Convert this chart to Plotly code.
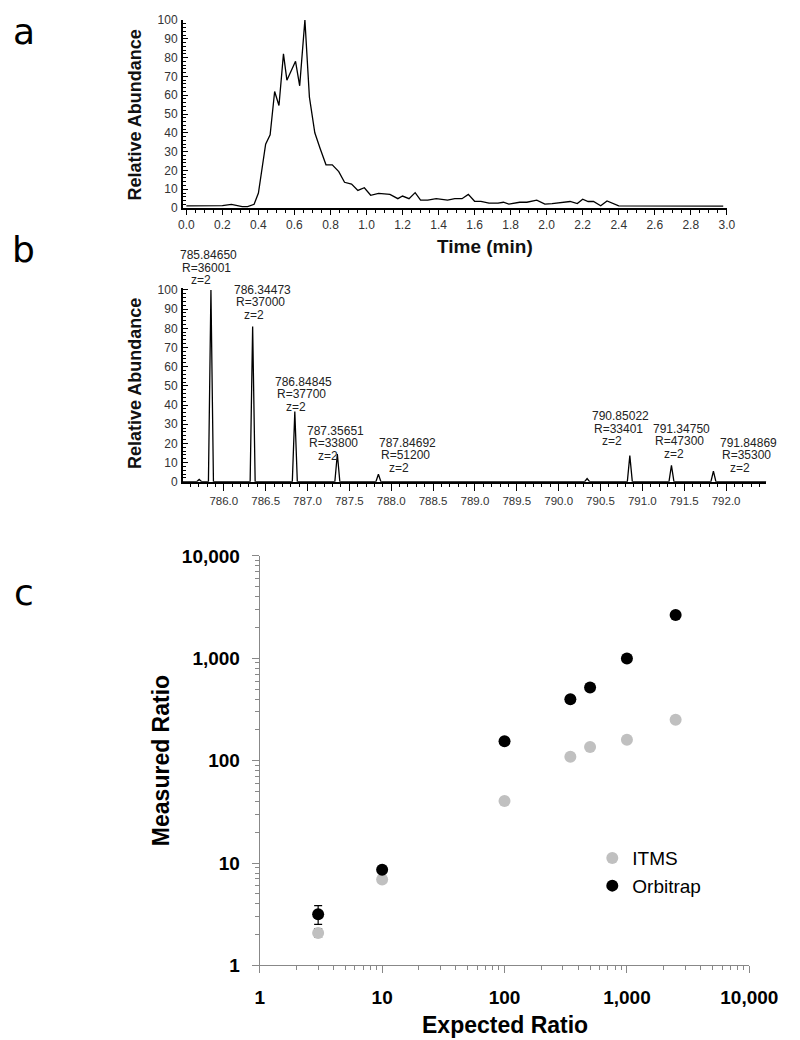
import plotly.graph_objects as go

W, H = 800, 1040

# ---------------- data ----------------
# panel a: chromatogram
time_min = [0.00, 0.05, 0.10, 0.15, 0.20, 0.25, 0.31, 0.34, 0.376, 0.40,
            0.44, 0.465, 0.49, 0.514, 0.539, 0.558, 0.606, 0.629, 0.658, 0.683,
            0.713, 0.743, 0.775, 0.81, 0.846, 0.878, 0.917, 0.952, 0.988, 1.023,
            1.067, 1.13, 1.174, 1.20, 1.236, 1.27, 1.30, 1.34, 1.387, 1.45,
            1.49, 1.53, 1.565, 1.60, 1.635, 1.68, 1.73, 1.76, 1.79, 1.85,
            1.89, 1.945, 1.99, 2.03, 2.07, 2.13, 2.17, 2.20, 2.23, 2.26,
            2.30, 2.335, 2.40, 2.71, 2.80, 2.98]
abundance = [1.2, 1.2, 1.5, 1.3, 1.3, 2.0, 0.8, 0.8, 2.0, 8.0,
             34, 39, 62, 54.5, 82, 68, 78, 65, 100, 59,
             40, 31.5, 23, 23, 19.4, 13.7, 12.8, 9.4, 10.8, 6.8,
             7.8, 7.3, 5.0, 6.4, 5.0, 8.2, 4.2, 4.2, 5.0, 4.2,
             5.0, 5.0, 7.3, 3.6, 3.6, 2.6, 2.6, 3.1, 2.1, 3.1,
             3.1, 4.2, 2.1, 2.4, 2.9, 3.5, 2.4, 4.7, 3.5, 3.5,
             1.2, 3.8, 1.2, 1.2, 0.9, 1.0]

# panel b: mass spectrum peaks
peak_mz = [785.706, 785.84650, 786.34473, 786.84845, 787.35651, 787.84692,
           790.34, 790.85022, 791.34750, 791.84869]
peak_int = [1.2, 100, 81, 36.6, 14.5, 3.9, 1.7, 13.6, 8.5, 5.5]
label_mz = ["785.84650", "786.34473", "786.84845", "787.35651", "787.84692",
            "790.85022", "791.34750", "791.84869"]
label_R = ["R=36001", "R=37000", "R=37700", "R=33800", "R=51200",
           "R=33401", "R=47300", "R=35300"]
label_z = ["z=2"] * 8
label_peak_index = [1, 2, 3, 4, 5, 7, 8, 9]

# panel c: ratios
expected_itms = [3, 10, 100, 345, 500, 1000, 2500]
measured_itms = [2.08, 6.9, 40.5, 109, 136, 160, 251]
itms_err_plus = [0.21, 0, 0, 0, 0, 0, 0]
itms_err_minus = [0.20, 0, 0, 0, 0, 0, 0]
expected_orbi = [3, 10, 100, 345, 500, 1000, 2500]
measured_orbi = [3.16, 8.6, 155, 398, 519, 995, 2650]
orbi_err_plus = [0.68, 0, 0, 0, 0, 0, 0]
orbi_err_minus = [0.64, 0, 0, 0, 0, 0, 0]

log_ticks = [1, 10, 100, 1000, 10000]
log_ticktext = ["1", "10", "100", "1,000", "10,000"]

# ---------------- helpers ----------------
def px(x):
    return x / W

def py(y):
    return 1 - y / H

FONT = "Liberation Sans"

# build profile spectrum trace from peak list
half_w = 0.03
x_range_b = [785.51, 792.48]
spec_x = [x_range_b[0]]
spec_y = [0]
for m, h in zip(peak_mz, peak_int):
    spec_x += [m - half_w, m, m + half_w]
    spec_y += [0, h, 0]
spec_x.append(x_range_b[1])
spec_y.append(0)

fig = go.Figure()

fig.add_trace(go.Scatter(x=time_min, y=abundance, mode="lines",
                         line=dict(color="black", width=1.3),
                         xaxis="x", yaxis="y", showlegend=False, hoverinfo="skip"))

fig.add_trace(go.Scatter(x=spec_x, y=spec_y, mode="lines",
                         line=dict(color="black", width=1.3),
                         xaxis="x2", yaxis="y2", showlegend=False, hoverinfo="skip"))

fig.add_trace(go.Scatter(x=expected_itms, y=measured_itms, mode="markers", name="ITMS",
                         marker=dict(color="#c0c0c0", size=12),
                         error_y=dict(type="data", array=itms_err_plus, arrayminus=itms_err_minus,
                                      color="#222", thickness=1.2, width=4),
                         xaxis="x3", yaxis="y3"))
fig.add_trace(go.Scatter(x=expected_orbi, y=measured_orbi, mode="markers", name="Orbitrap",
                         marker=dict(color="black", size=12),
                         error_y=dict(type="data", array=orbi_err_plus, arrayminus=orbi_err_minus,
                                      color="black", thickness=1.2, width=4),
                         xaxis="x3", yaxis="y3"))

tick_font_ab = dict(family=FONT, size=12, color="#333")

# panel a axes
fig.update_layout(
    xaxis=dict(domain=[px(177.3), px(745.5)], range=[-0.02, 3.0], anchor="y",
               showline=True, linecolor="black", linewidth=1.5, showgrid=False, zeroline=False,
               ticks="outside", ticklen=5, tickwidth=1, tickcolor="black",
               tick0=0, dtick=0.2, tickformat=".1f", tickfont=tick_font_ab,
               minor=dict(ticks="outside", ticklen=3, tickcolor="black", dtick=0.05, tick0=0)),
    yaxis=dict(domain=[py(194), py(2)], range=[0, 100], anchor="x",
               showline=True, linecolor="black", linewidth=1.5, showgrid=False, zeroline=False,
               ticks="inside", ticklen=5, tickcolor="black", tick0=0, dtick=10,
               tickfont=tick_font_ab, ticklabelstandoff=1,
               minor=dict(ticks="inside", ticklen=3, tickcolor="black", dtick=2, tick0=0)),
    xaxis2=dict(domain=[px(177.3), px(786.7)], range=x_range_b, anchor="y2",
                showline=True, linecolor="black", linewidth=1.5, showgrid=False, zeroline=False,
                ticks="outside", ticklen=8, tickcolor="black", tick0=786, dtick=0.5,
                tickformat=".1f", tickfont=dict(family=FONT, size=11.5, color="#333"),
                minor=dict(ticks="outside", ticklen=4, tickcolor="black", dtick=0.1, tick0=786)),
    yaxis2=dict(domain=[py(473.3), py(275.6)], range=[0, 101], anchor="x2",
                showline=True, linecolor="black", linewidth=1.5, showgrid=False, zeroline=False,
                ticks="inside", ticklen=5, tickcolor="black", tickmode="array",
                tickvals=list(range(0, 101, 10)), tickfont=tick_font_ab, ticklabelstandoff=1,
                minor=dict(ticks="inside", ticklen=3, tickcolor="black", tickmode="array",
                           tickvals=list(range(0, 101, 2)))),
    xaxis3=dict(domain=[px(257.7), px(769)], type="log", range=[0, 4], anchor="y3",
                showline=True, linecolor="#888", linewidth=1, showgrid=False, zeroline=False,
                ticks="outside", ticklen=7, tickcolor="#888", tickmode="array",
                tickvals=log_ticks, ticktext=log_ticktext, ticklabelstandoff=8,
                tickfont=dict(family=FONT, size=19, color="black", weight="bold"),
                minor=dict(ticks="outside", ticklen=4, tickcolor="#888", tickmode="array",
                           tickvals=[k * 10 ** d for d in range(4) for k in range(2, 10)])),
    yaxis3=dict(domain=[py(967), py(549)], type="log", range=[0, 4], anchor="x3",
                showline=True, linecolor="#888", linewidth=1, showgrid=False, zeroline=False,
                ticks="outside", ticklen=7, tickcolor="#888", tickmode="array",
                tickvals=log_ticks, ticktext=log_ticktext, ticklabelstandoff=8,
                tickfont=dict(family=FONT, size=19, color="black", weight="bold"),
                minor=dict(ticks="outside", ticklen=4, tickcolor="#888", tickmode="array",
                           tickvals=[k * 10 ** d for d in range(4) for k in range(2, 10)])),
)

# peak labels (anchored to the peak tops, offsets in pixels)
label_dx = [-2.3, 9.8, 9.1, -1.7, 28.7, -9.4, 10.4, 34.9]
label_dy = [9.9, 11.5, 5.0, -1.8, 6.7, 14.4, 11.7, 3.5]
line_gap = 12.4
annotations = []
for i, pk in enumerate(label_peak_index):
    lines = [label_z[i], label_R[i], label_mz[i]]
    xoffs = [-8, -2, 0]
    for k, txt in enumerate(lines):
        annotations.append(dict(
            x=peak_mz[pk], y=peak_int[pk], xref="x2", yref="y2",
            text=txt, showarrow=False, xanchor="center", yanchor="middle",
            xshift=label_dx[i] + xoffs[k], yshift=label_dy[i] + k * line_gap,
            font=dict(family=FONT, size=12, color="#222")))

def title_ann(text, x, y, size, angle=0, weight="bold", family=FONT, color="black"):
    return dict(text=text, x=px(x), y=py(y), xref="paper", yref="paper",
                showarrow=False, xanchor="center", yanchor="middle", textangle=angle,
                font=dict(family=family, size=size, color=color, weight=weight))

annotations += [
    title_ann("Relative Abundance", 127, 99, 18, angle=-90, color="#111"),
    title_ann("Time (min)", 493, 233, 19, color="#111"),
    title_ann("Relative Abundance", 128, 373, 18, angle=-90, color="#111"),
    title_ann("Measured Ratio", 154, 758, 23, angle=-90),
    title_ann("Expected Ratio", 514, 1028, 23),
    title_ann("a", 11, 14, 36, weight="normal", family="DejaVu Sans"),
    title_ann("b", 11, 236, 36, weight="normal", family="DejaVu Sans"),
    title_ann("c", 11, 586, 36, weight="normal", family="DejaVu Sans"),
]

fig.update_layout(
    width=W, height=H, margin=dict(l=0, r=0, t=0, b=0),
    paper_bgcolor="white", plot_bgcolor="white",
    annotations=annotations,
    showlegend=True,
    legend=dict(x=px(605), y=py(838), xanchor="left", yanchor="top",
                font=dict(family=FONT, size=19, color="black"),
                bgcolor="rgba(0,0,0,0)", itemsizing="constant"),
)

fig.write_html("out.html")
